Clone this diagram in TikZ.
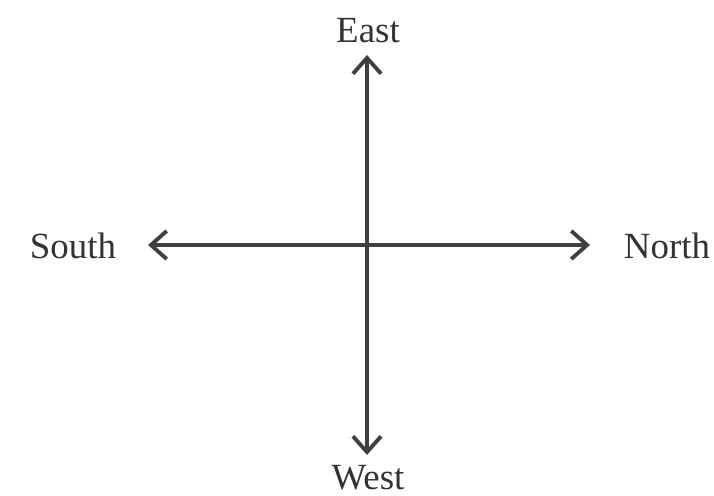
\documentclass[tikz,border=0pt]{standalone}
\usepackage{fontspec}
\setmainfont{Liberation Serif}
\usetikzlibrary{arrows.meta}
\begin{document}
\begin{tikzpicture}[x=0.02cm,y=-0.02cm,
  lbl/.style={inner sep=0pt, text=black!80, font=\fontsize{21}{25}\selectfont},
  axis/.style={draw=black!75, line width=1.8pt, {Straight Barb[length=9pt,width=16pt,line width=2.2pt]}-{Straight Barb[length=9pt,width=16pt,line width=2.2pt]}}]
\useasboundingbox (0,0) rectangle (714,496);
\coordinate (c) at (367,245);
\coordinate (e) at (367,55);
\coordinate (w) at (367,455);
\coordinate (s) at (148,245);
\coordinate (n) at (590,245);
\draw[axis] (w) -- (e);
\draw[axis] (s) -- (n);
\node[lbl] (tE) at (368,31) {East};
\node[lbl] (tW) at (368,478) {West};
\node[lbl] (tS) at (73,246) {South};
\node[lbl] (tN) at (667,246) {North};
\end{tikzpicture}
\end{document}
